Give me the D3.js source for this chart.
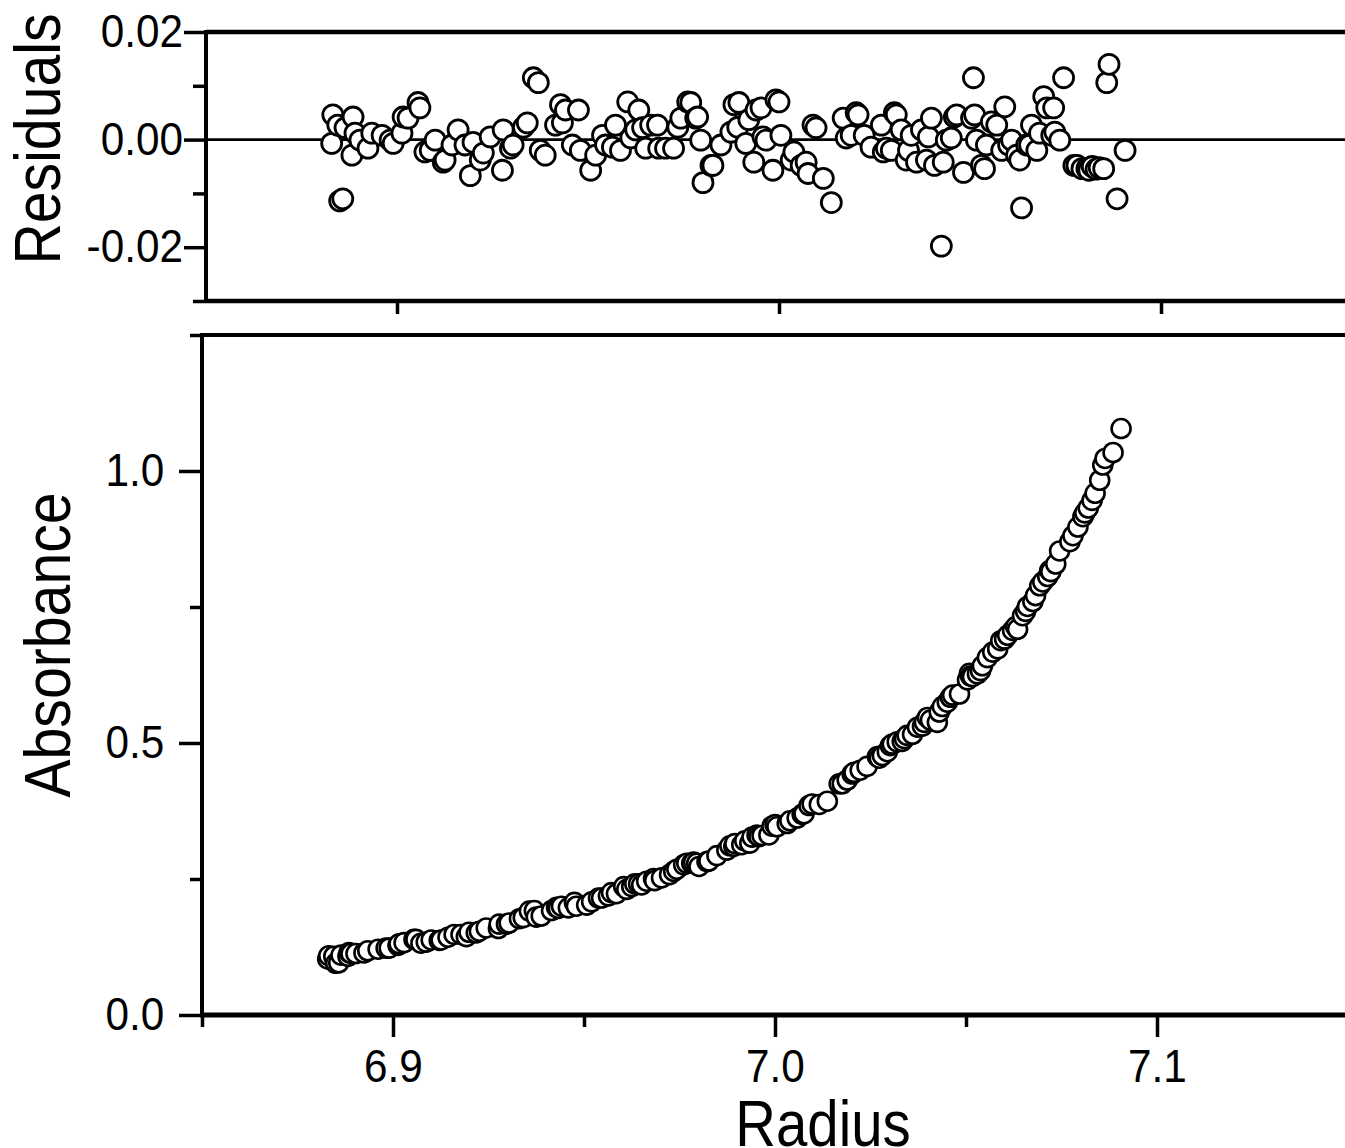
<!DOCTYPE html>
<html>
<head>
<meta charset="utf-8">
<script src="https://cdn.jsdelivr.net/npm/d3@7"></script>
<style>
  body { margin: 0; background: #fff; }
  svg { display: block; }
  text { font-family: "Liberation Sans", Arial, sans-serif; fill: #000; }
</style>
</head>
<body>
<svg id="chart"></svg>
<script>
// radius (cm) of each scan point
const radius = [
  6.8829, 6.8832, 6.8845, 6.8850, 6.8858, 6.8864, 6.8882, 6.8885, 6.8890, 6.8903,
  6.8924, 6.8934, 6.8961, 6.8982, 6.8990, 6.9013, 6.9016, 6.9029, 6.9055, 6.9060,
  6.9073, 6.9087, 6.9100, 6.9121, 6.9126, 6.9144, 6.9160, 6.9178, 6.9192, 6.9199,
  6.9218, 6.9226, 6.9244, 6.9276, 6.9278, 6.9297, 6.9304, 6.9331, 6.9341, 6.9357,
  6.9370, 6.9375, 6.9388, 6.9415, 6.9428, 6.9433, 6.9441, 6.9459, 6.9475, 6.9480,
  6.9507, 6.9520, 6.9538, 6.9546, 6.9564, 6.9572, 6.9585, 6.9604, 6.9612, 6.9625,
  6.9633, 6.9643, 6.9651, 6.9664, 6.9682, 6.9685, 6.9703, 6.9724, 6.9735, 6.9743,
  6.9761, 6.9769, 6.9782, 6.9787, 6.9795, 6.9801, 6.9822, 6.9827, 6.9848, 6.9874,
  6.9882, 6.9892, 6.9895, 6.9913, 6.9921, 6.9934, 6.9940, 6.9953, 6.9958, 6.9966,
  6.9984, 6.9992, 7.0000, 7.0005, 7.0032, 7.0039, 7.0058, 7.0071, 7.0076, 7.0089,
  7.0097, 7.0116, 7.0137, 7.0168, 7.0176, 7.0189, 7.0202, 7.0207, 7.0223, 7.0241,
  7.0268, 7.0273, 7.0281, 7.0294, 7.0302, 7.0307, 7.0320, 7.0333, 7.0339, 7.0346,
  7.0360, 7.0373, 7.0386, 7.0391, 7.0399, 7.0407, 7.0425, 7.0430, 7.0438, 7.0451,
  7.0459, 7.0465, 7.0483, 7.0504, 7.0509, 7.0512, 7.0517, 7.0530, 7.0538, 7.0543,
  7.0556, 7.0570, 7.0583, 7.0591, 7.0601, 7.0609, 7.0622, 7.0630, 7.0635, 7.0648,
  7.0656, 7.0661, 7.0675, 7.0682, 7.0693, 7.0701, 7.0714, 7.0719, 7.0722, 7.0735,
  7.0745, 7.0772, 7.0780, 7.0793, 7.0806, 7.0811, 7.0820, 7.0830, 7.0838, 7.0850,
  7.0858, 7.0864, 7.0885, 7.0906
];

const residual = [
  -0.0007, 0.0046, 0.0027, -0.0114, -0.0110, 0.0022, -0.0029, 0.0042, 0.0012, -0.0001,
  -0.0016, 0.0012, 0.0008, -0.0001, -0.0007, 0.0012, 0.0042, 0.0040, 0.0069, 0.0059,
  -0.0023, -0.0020, -0.0001, -0.0042, -0.0038, -0.0010, 0.0018, -0.0010, -0.0067, -0.0005,
  -0.0038, -0.0025, 0.0005, -0.0057, 0.0018, -0.0016, -0.0010, 0.0023, 0.0031, 0.0115,
  0.0106, -0.0020, -0.0029, 0.0027, 0.0065, 0.0031, 0.0055, -0.0010, 0.0055, -0.0020,
  -0.0057, -0.0029, 0.0008, -0.0010, -0.0014, 0.0027, -0.0020, 0.0070, 0.0003, 0.0018,
  0.0055, 0.0022, -0.0016, 0.0027, 0.0027, -0.0016, -0.0016, -0.0016, 0.0023, 0.0040,
  0.0070, 0.0069, 0.0040, 0.0042, -0.0001, -0.0080, -0.0048, -0.0048, -0.0010, 0.0014,
  0.0065, 0.0023, 0.0069, -0.0007, 0.0037, -0.0042, 0.0055, 0.0059, 0.0005, -0.0001,
  -0.0057, 0.0074, 0.0070, 0.0008, -0.0038, -0.0023, -0.0048, -0.0042, -0.0063, 0.0027,
  0.0022, -0.0072, -0.0117, 0.0040, 0.0003, 0.0008, 0.0050, 0.0046, 0.0008, -0.0014,
  0.0027, -0.0023, -0.0016, -0.0020, 0.0050, 0.0046, 0.0018, -0.0038, -0.0020, 0.0008,
  -0.0042, 0.0018, -0.0038, 0.0005, 0.0040, -0.0048, -0.0198, -0.0042, -0.0001, 0.0003,
  0.0042, 0.0046, -0.0061, 0.0040, 0.0115, 0.0046, -0.0001, -0.0048, -0.0054, -0.0010,
  0.0033, 0.0027, -0.0020, 0.0061, -0.0010, -0.0001, -0.0029, -0.0038, -0.0127, -0.0010,
  -0.0010, 0.0027, -0.0020, 0.0012, 0.0080, 0.0059, 0.0008, 0.0059, 0.0014, -0.0001,
  0.0115, -0.0048, -0.0048, -0.0054, -0.0054, -0.0057, -0.0050, -0.0055, -0.0052, -0.0054,
  0.0106, 0.0140, -0.0110, -0.0020
];

const absorbance = [
  0.103, 0.109, 0.108, 0.095, 0.096, 0.110, 0.108, 0.115, 0.113, 0.113,
  0.114, 0.118, 0.121, 0.123, 0.123, 0.128, 0.131, 0.133, 0.139, 0.139,
  0.132, 0.134, 0.138, 0.137, 0.138, 0.143, 0.148, 0.148, 0.144, 0.152,
  0.151, 0.154, 0.160, 0.159, 0.167, 0.167, 0.169, 0.177, 0.179, 0.191,
  0.192, 0.180, 0.182, 0.192, 0.198, 0.196, 0.200, 0.197, 0.207, 0.200,
  0.202, 0.208, 0.215, 0.215, 0.219, 0.225, 0.223, 0.236, 0.231, 0.236,
  0.241, 0.241, 0.239, 0.246, 0.251, 0.247, 0.252, 0.258, 0.264, 0.268,
  0.276, 0.279, 0.279, 0.281, 0.279, 0.273, 0.282, 0.283, 0.293, 0.303,
  0.311, 0.310, 0.315, 0.313, 0.320, 0.316, 0.327, 0.331, 0.328, 0.330,
  0.331, 0.347, 0.350, 0.346, 0.352, 0.357, 0.362, 0.369, 0.370, 0.385,
  0.388, 0.387, 0.393, 0.425, 0.425, 0.432, 0.443, 0.446, 0.450, 0.457,
  0.475, 0.472, 0.477, 0.484, 0.495, 0.498, 0.502, 0.503, 0.508, 0.514,
  0.516, 0.529, 0.531, 0.538, 0.547, 0.542, 0.538, 0.557, 0.567, 0.575,
  0.584, 0.588, 0.590, 0.616, 0.628, 0.623, 0.622, 0.627, 0.633, 0.642,
  0.657, 0.667, 0.673, 0.688, 0.691, 0.698, 0.707, 0.714, 0.709, 0.734,
  0.742, 0.751, 0.760, 0.771, 0.789, 0.796, 0.806, 0.817, 0.815, 0.829,
  0.853, 0.870, 0.881, 0.897, 0.916, 0.923, 0.932, 0.946, 0.959, 0.983,
  1.011, 1.023, 1.034, 1.078
];

const xTicksMajor = [6.9, 7.0, 7.1];
const xTicksMinor = [6.85, 6.95, 7.05, 7.15];
const resTicksMajor = [-0.02, 0, 0.02];
const resTicksMinor = [-0.03, -0.01, 0.01];
const absTicksMajor = [0, 0.5, 1.0];
const absTicksMinor = [0.25, 0.75, 1.25];

const width = 1345, height = 1148;
const squeeze = 'scale(0.92,1)';

const svg = d3.select('#chart')
  .attr('width', width)
  .attr('height', height);

svg.append('rect').attr('width', width).attr('height', height).attr('fill', '#fff');

const x = d3.scaleLinear().domain([6.85, 7.15]).range([202, 1348]);
const yRes = d3.scaleLinear().domain([-0.03, 0.02]).range([301, 32]);
const yAbs = d3.scaleLinear().domain([0, 1.25]).range([1015, 335]);

const dashFmt = f => v => d3.format(f)(v).replace('\u2212', '-');

function styleAxis(g, strokeW) {
  g.select('.domain').remove();
  g.selectAll('.tick line').attr('stroke', '#000').attr('stroke-width', strokeW);
  g.selectAll('.tick text')
    .attr('font-size', 46)
    .attr('font-family', '"Liberation Sans", Arial, sans-serif')
    .attr('fill', '#000')
    .attr('transform', squeeze);
}

// ---------- residuals panel ----------
const resPanel = svg.append('g').attr('transform', 'translate(4,0)');
const x0 = x(6.85);

resPanel.append('line')
  .attr('x1', x0).attr('x2', width)
  .attr('y1', yRes(0)).attr('y2', yRes(0))
  .attr('stroke', '#000').attr('stroke-width', 2.6);

resPanel.append('g').call(g => {
  g.call(d3.axisLeft(yRes).tickValues(resTicksMinor).tickSize(13).tickFormat(''));
  g.attr('transform', `translate(${x0},0)`);
  styleAxis(g, 3.5);
});
resPanel.append('g').call(g => {
  g.call(d3.axisLeft(yRes).tickValues(resTicksMajor).tickSize(22).tickPadding(3)
    .tickFormat(dashFmt('.2f')));
  g.attr('transform', `translate(${x0},0)`);
  styleAxis(g, 3.5);
});
resPanel.append('g').call(g => {
  g.call(d3.axisBottom(x).tickValues(xTicksMajor).tickSize(13).tickFormat(''));
  g.attr('transform', `translate(0,${yRes(-0.03)})`);
  styleAxis(g, 3.5);
});

// frame
resPanel.append('line').attr('x1', x0).attr('x2', width)
  .attr('y1', yRes(0.02)).attr('y2', yRes(0.02))
  .attr('stroke', '#000').attr('stroke-width', 4.5);
resPanel.append('line').attr('x1', x0).attr('x2', width)
  .attr('y1', yRes(-0.03)).attr('y2', yRes(-0.03))
  .attr('stroke', '#000').attr('stroke-width', 4.5);
resPanel.append('line').attr('x1', x0).attr('x2', x0)
  .attr('y1', yRes(0.02) - 2).attr('y2', yRes(-0.03) + 2)
  .attr('stroke', '#000').attr('stroke-width', 4);

resPanel.append('g').selectAll('circle')
  .data(radius)
  .enter()
  .append('circle')
  .attr('cx', d => x(d))
  .attr('cy', (d, i) => yRes(residual[i]))
  .attr('r', 10)
  .attr('fill', '#fff')
  .attr('stroke', '#000')
  .attr('stroke-width', 2.8);

// ---------- absorbance panel ----------
const absPanel = svg.append('g');

absPanel.append('g').call(g => {
  g.call(d3.axisLeft(yAbs).tickValues(absTicksMinor).tickSize(12).tickFormat(''));
  g.attr('transform', `translate(${x0},0)`);
  styleAxis(g, 3.5);
});
absPanel.append('g').call(g => {
  g.call(d3.axisLeft(yAbs).tickValues(absTicksMajor).tickSize(23).tickPadding(18)
    .tickFormat(d3.format('.1f')));
  g.attr('transform', `translate(${x0},0)`);
  styleAxis(g, 3.5);
});
absPanel.append('g').call(g => {
  g.call(d3.axisBottom(x).tickValues(xTicksMinor).tickSize(12).tickFormat(''));
  g.attr('transform', `translate(0,${yAbs(0)})`);
  styleAxis(g, 3.5);
});
absPanel.append('g').call(g => {
  g.call(d3.axisBottom(x).tickValues(xTicksMajor).tickSize(22).tickPadding(12)
    .tickFormat(d3.format('.1f')));
  g.attr('transform', `translate(0,${yAbs(0)})`);
  styleAxis(g, 3.5);
});

absPanel.append('line').attr('x1', x0).attr('x2', width)
  .attr('y1', yAbs(1.25)).attr('y2', yAbs(1.25))
  .attr('stroke', '#000').attr('stroke-width', 4);
absPanel.append('line').attr('x1', x0 - 2).attr('x2', width)
  .attr('y1', yAbs(0)).attr('y2', yAbs(0))
  .attr('stroke', '#000').attr('stroke-width', 5);
absPanel.append('line').attr('x1', x0).attr('x2', x0)
  .attr('y1', yAbs(1.25) - 2).attr('y2', yAbs(0))
  .attr('stroke', '#000').attr('stroke-width', 4);

absPanel.append('g').selectAll('circle')
  .data(radius)
  .enter()
  .append('circle')
  .attr('cx', d => x(d))
  .attr('cy', (d, i) => yAbs(absorbance[i]))
  .attr('r', 9.5)
  .attr('fill', '#fff')
  .attr('stroke', '#000')
  .attr('stroke-width', 2.6);

// ---------- axis titles ----------
svg.append('text')
  .attr('transform', 'translate(60,139) rotate(-90) scale(0.88,1)')
  .attr('text-anchor', 'middle')
  .attr('font-size', 65)
  .text('Residuals');

svg.append('text')
  .attr('transform', 'translate(70,645) rotate(-90) scale(0.88,1)')
  .attr('text-anchor', 'middle')
  .attr('font-size', 65)
  .text('Absorbance');

svg.append('text')
  .attr('transform', 'translate(823,1146) scale(0.88,1)')
  .attr('text-anchor', 'middle')
  .attr('font-size', 64)
  .text('Radius');
</script>
</body>
</html>
